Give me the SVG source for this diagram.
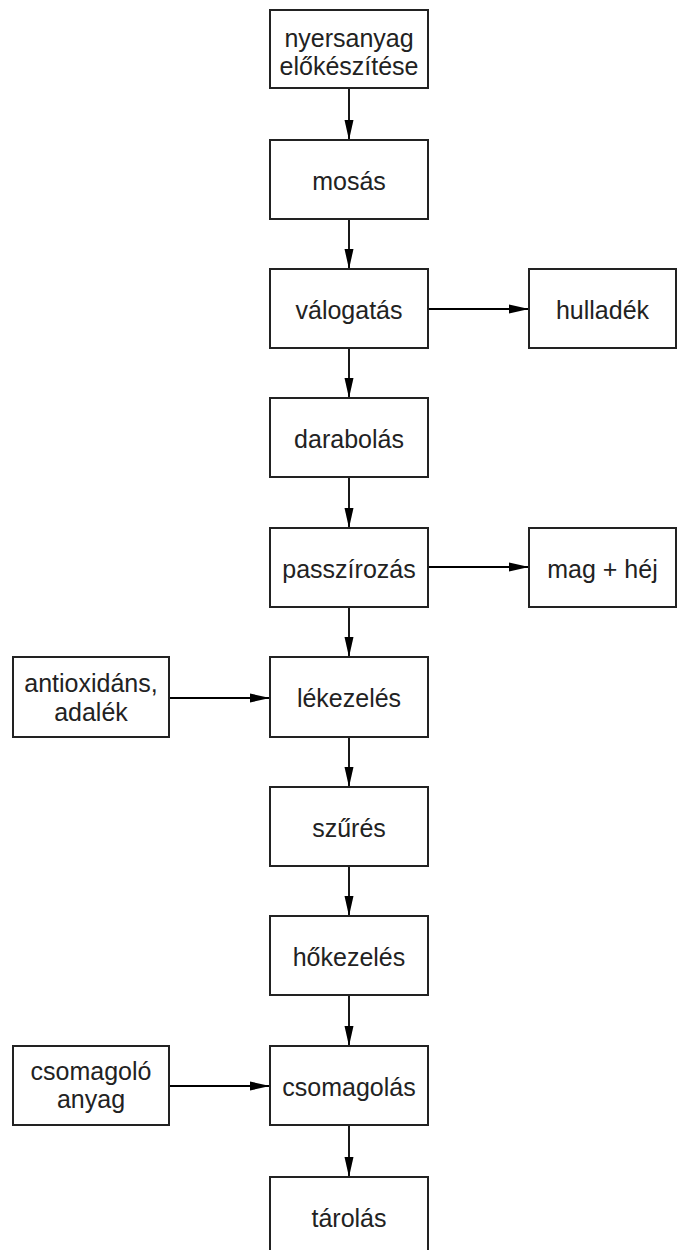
<svg xmlns="http://www.w3.org/2000/svg" width="677" height="1250" viewBox="0 0 677 1250">
<style>
.box{fill:#fff;stroke:#222;stroke-width:2}
.t{font-family:"Liberation Sans",Arial,sans-serif;font-size:25px;fill:#222;text-anchor:middle}
.c{stroke:#000;stroke-width:1.8;fill:none}
</style>
<defs>
<marker id="ah" viewBox="0 0 20 10" refX="20" refY="5" markerWidth="20" markerHeight="10" markerUnits="userSpaceOnUse" orient="auto">
<path d="M0,0.5 L20,5 L0,9.5 Z" fill="#000"/>
</marker>
</defs>
<rect width="677" height="1250" fill="#fff"/>
<g id="connectors">
<line class="c" x1="349" y1="88" x2="349" y2="140" marker-end="url(#ah)"/>
<line class="c" x1="349" y1="219" x2="349" y2="269" marker-end="url(#ah)"/>
<line class="c" x1="349" y1="348" x2="349" y2="398" marker-end="url(#ah)"/>
<line class="c" x1="349" y1="477" x2="349" y2="528" marker-end="url(#ah)"/>
<line class="c" x1="349" y1="607" x2="349" y2="657" marker-end="url(#ah)"/>
<line class="c" x1="349" y1="737" x2="349" y2="787" marker-end="url(#ah)"/>
<line class="c" x1="349" y1="866" x2="349" y2="916" marker-end="url(#ah)"/>
<line class="c" x1="349" y1="995" x2="349" y2="1046" marker-end="url(#ah)"/>
<line class="c" x1="349" y1="1125" x2="349" y2="1177" marker-end="url(#ah)"/>
<line class="c" x1="428" y1="309" x2="529" y2="309" marker-end="url(#ah)"/>
<line class="c" x1="428" y1="567" x2="529" y2="567" marker-end="url(#ah)"/>
<line class="c" x1="169" y1="698" x2="270" y2="698" marker-end="url(#ah)"/>
<line class="c" x1="169" y1="1086" x2="270" y2="1086" marker-end="url(#ah)"/>
</g>
<g id="n1"><rect class="box" x="270" y="10" width="158" height="78"/><text class="t" x="349" y="47">nyersanyag</text><text class="t" x="349" y="75">előkészítése</text></g>
<g id="n2"><rect class="box" x="270" y="140" width="158" height="79"/><text class="t" x="349" y="190">mosás</text></g>
<g id="n3"><rect class="box" x="270" y="269" width="158" height="79"/><text class="t" x="349" y="319">válogatás</text></g>
<g id="n4"><rect class="box" x="270" y="398" width="158" height="79"/><text class="t" x="349" y="448">darabolás</text></g>
<g id="n5"><rect class="box" x="270" y="528" width="158" height="79"/><text class="t" x="349" y="578">passzírozás</text></g>
<g id="n6"><rect class="box" x="270" y="657" width="158" height="80"/><text class="t" x="349" y="707">lékezelés</text></g>
<g id="n7"><rect class="box" x="270" y="787" width="158" height="79"/><text class="t" x="349" y="837">szűrés</text></g>
<g id="n8"><rect class="box" x="270" y="916" width="158" height="79"/><text class="t" x="349" y="966">hőkezelés</text></g>
<g id="n9"><rect class="box" x="270" y="1046" width="158" height="79"/><text class="t" x="349" y="1096">csomagolás</text></g>
<g id="n10"><rect class="box" x="270" y="1177" width="158" height="90"/><text class="t" x="349" y="1227">tárolás</text></g>
<g id="r1"><rect class="box" x="529" y="269" width="147" height="79"/><text class="t" x="602.5" y="319">hulladék</text></g>
<g id="r2"><rect class="box" x="529" y="528" width="147" height="79"/><text class="t" x="602.5" y="578">mag + héj</text></g>
<g id="l1"><rect class="box" x="13" y="657" width="156" height="80"/><text class="t" x="91" y="692">antioxidáns,</text><text class="t" x="91" y="721">adalék</text></g>
<g id="l2"><rect class="box" x="13" y="1046" width="156" height="79"/><text class="t" x="91" y="1080">csomagoló</text><text class="t" x="91" y="1108">anyag</text></g>
</svg>
